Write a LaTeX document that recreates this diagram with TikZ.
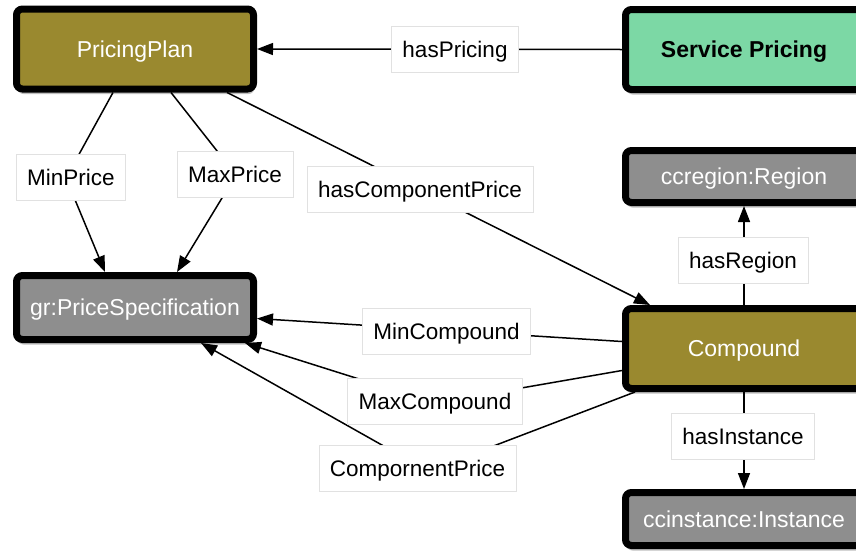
\documentclass[tikz,border=0pt]{standalone}
\usepackage{fontspec}
\setmainfont{Liberation Sans}
\usetikzlibrary{arrows.meta,shadows}
\definecolor{olive}{RGB}{154,137,47}
\definecolor{boxgray}{RGB}{142,142,142}
\definecolor{mint}{RGB}{124,216,165}
\definecolor{lblborder}{RGB}{225,225,225}
\tikzset{
  cls/.style={draw=black, line width=7pt, rounded corners=6pt, minimum width=237pt,
    inner sep=0pt, text=white, text depth=0pt, font=\fontsize{23}{27}\selectfont,
    drop shadow={shadow xshift=1pt, shadow yshift=-5pt, opacity=0.25, fill=black}},
  lbl/.style={fill=white, draw=lblborder, line width=0.6pt, inner xsep=11pt,
    inner ysep=0pt, minimum height=46pt, text=black, text depth=0pt,
    font=\fontsize{22.5}{26}\selectfont},
  edge/.style={line width=1.5pt, draw=black},
  tip/.style={-{Triangle[length=16pt,width=12pt]}},
}
\begin{document}
\begin{tikzpicture}[x=1pt,y=-1pt]
\useasboundingbox (0,0) rectangle (856,552);
% classes
\node[cls, fill=olive, minimum height=80pt] (pp) at (135,49) {PricingPlan};
\node[cls, fill=boxgray, minimum height=64pt] (gr) at (135,307.5) {gr:PriceSpecification};
\node[cls, fill=mint, minimum height=80pt, text=black, font=\fontsize{23}{27}\selectfont\bfseries] (sp) at (744,49.5) {Service Pricing};
\node[cls, fill=boxgray, minimum height=52pt] (cr) at (744,176.5) {ccregion:Region};
\node[cls, fill=olive, minimum height=80pt] (cp) at (744,348.5) {Compound};
\node[cls, fill=boxgray, minimum height=53pt] (ci) at (744,519) {ccinstance:Instance};
% bend points
\coordinate (bMin) at (66,178);
\coordinate (bMax) at (236,175);
\coordinate (bMaxC) at (435,403);
\coordinate (bComp) at (428,471);
% edges
\draw[edge,tip] (sp.west) -- (pp.east);
\draw[edge,tip] ([xshift=-22pt]pp.south) -- (bMin) -- ([xshift=-30pt]gr.north);
\draw[edge,tip] ([xshift=36pt]pp.south) -- (bMax) -- ([xshift=42pt]gr.north);
\draw[edge,tip] ([xshift=92pt]pp.south) -- ([xshift=-94pt]cp.north);
\draw[edge,tip] ([yshift=7pt]cp.west) -- ([yshift=-11pt]gr.east);
\draw[edge,tip] ([yshift=-22pt]cp.west) -- (bMaxC) -- ([xshift=-12pt]gr.south east);
\draw[edge,tip] ([xshift=-109pt]cp.south) -- (bComp) -- ([xshift=-56pt]gr.south east);
\draw[edge,tip] (cp.north) -- (cr.south);
\draw[edge,tip] (cp.south) -- (ci.north);
% labels
\node[lbl] (lhp) at (455,49.5) {hasPricing};
\node[lbl] (lminp) at (71,177.5) {MinPrice};
\node[lbl] (lmaxp) at (235,174.5) {MaxPrice};
\node[lbl] (lhcp) at (420,189.5) {hasComponentPrice};
\node[lbl] (lhr) at (743,260) {hasRegion};
\node[lbl] (lminc) at (446.5,331) {MinCompound};
\node[lbl] (lmaxc) at (435,401.5) {MaxCompound};
\node[lbl] (lcomp) at (417.5,468.5) {CompornentPrice};
\node[lbl] (lhi) at (743,436.5) {hasInstance};
\end{tikzpicture}
\end{document}
